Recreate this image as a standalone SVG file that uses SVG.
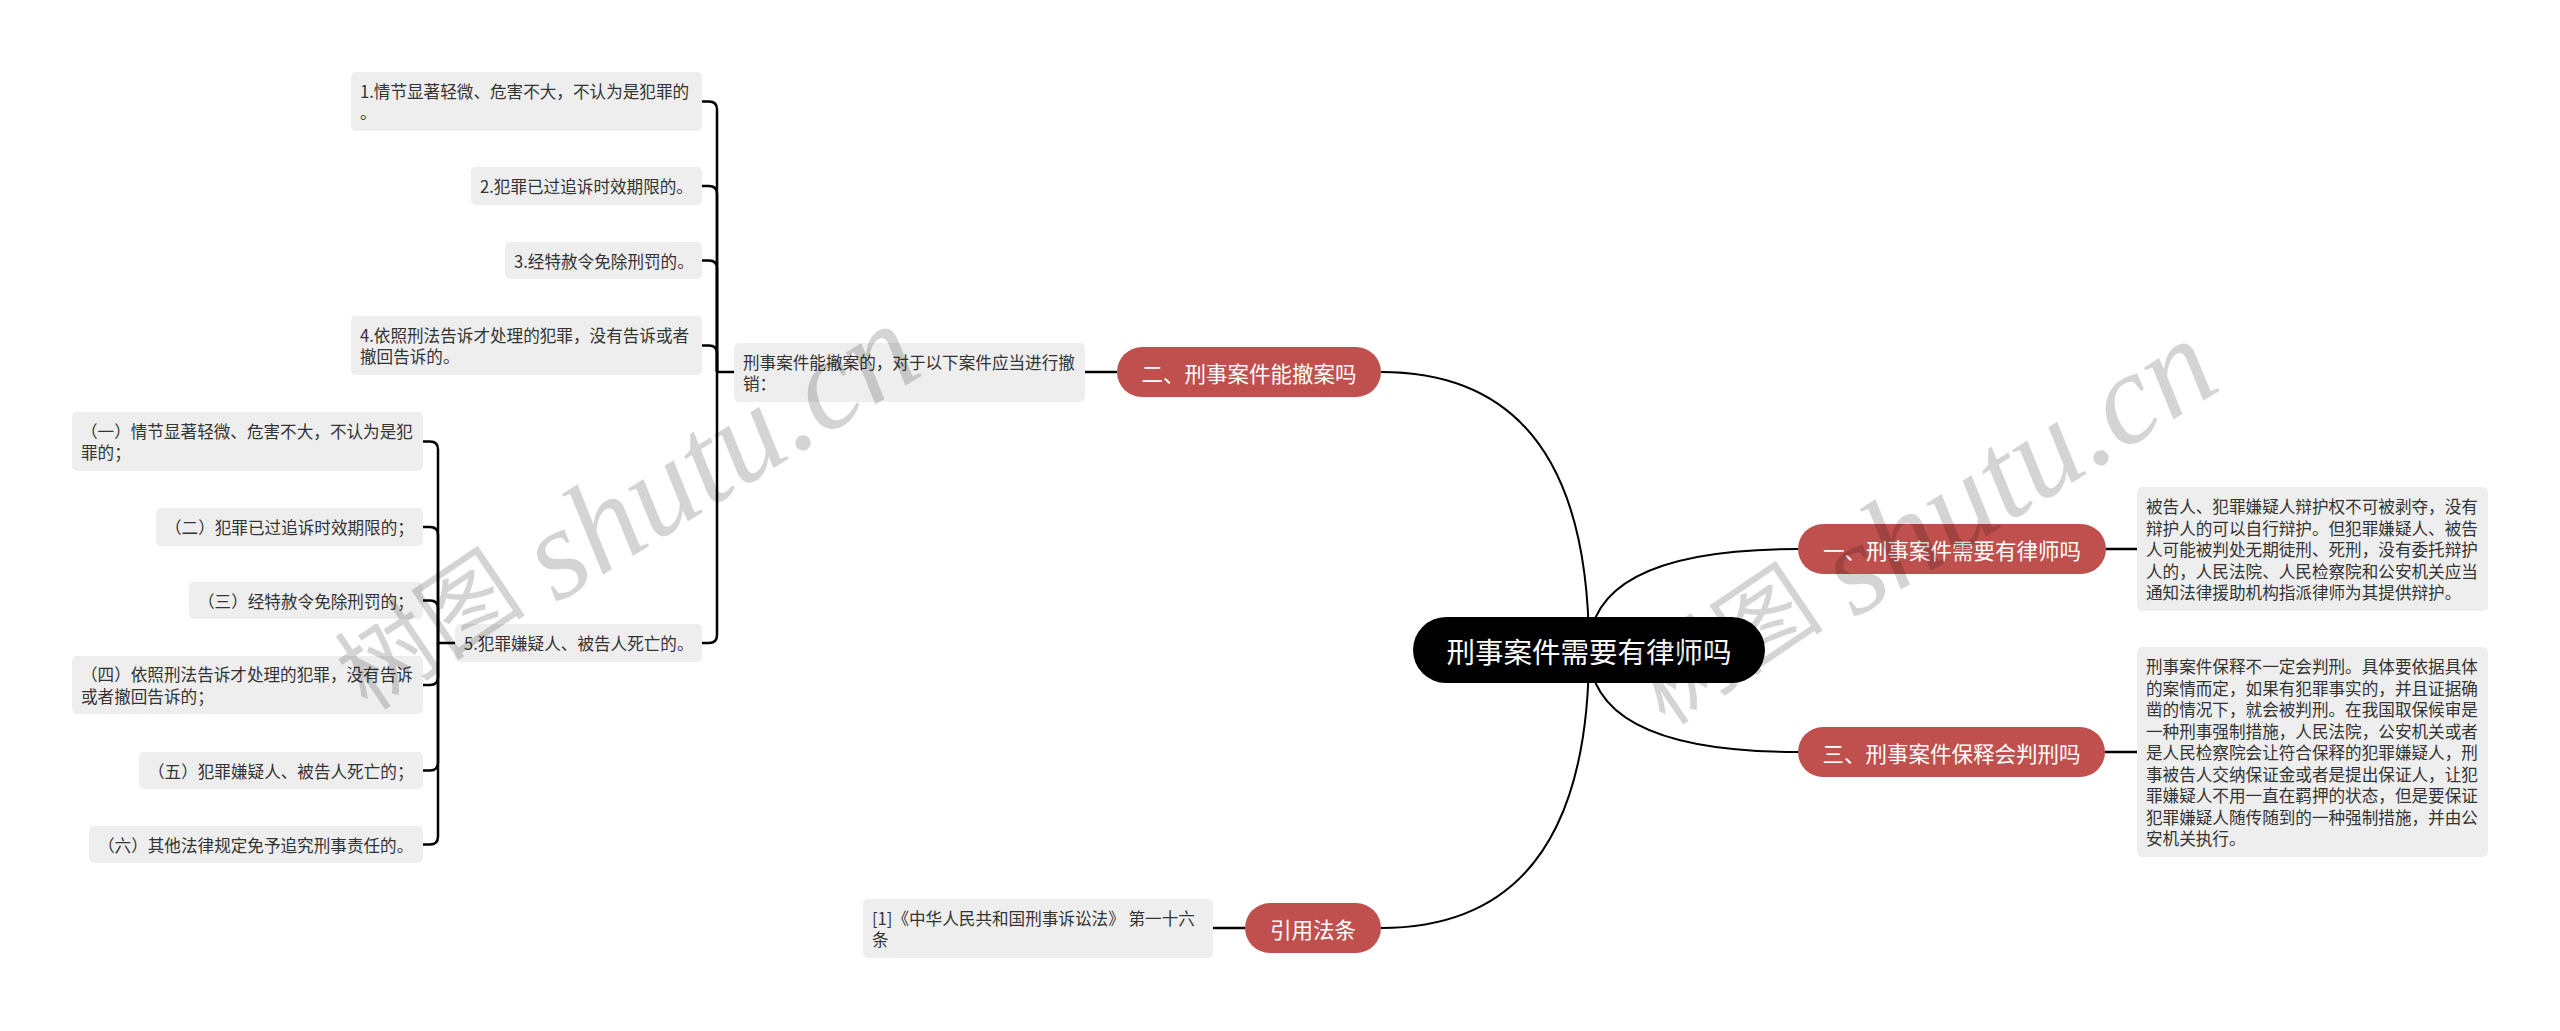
<svg xmlns="http://www.w3.org/2000/svg" width="2560" height="1031" viewBox="0 0 2560 1031">
<style>
.box{fill:#eeeeee}
.t{font-family:"Noto Sans CJK SC","Noto Sans",sans-serif;font-size:16.6px;fill:#333333;dominant-baseline:central}
.r{fill:#c0504d}
.rt{font-family:"Noto Sans CJK SC","Noto Sans",sans-serif;font-size:21.5px;fill:#ffffff;text-anchor:middle;dominant-baseline:central}
.mt{font-family:"Noto Sans CJK SC","Noto Sans",sans-serif;font-size:28.5px;fill:#ffffff;text-anchor:middle;dominant-baseline:central}
.c{fill:none;stroke:#000;stroke-width:2}
.b{fill:none;stroke:#000;stroke-width:2.5}
.wm{fill:#000;fill-opacity:0.17}
.wc{font-family:"Noto Sans CJK SC",sans-serif;font-size:96px}
.wl{font-family:"Liberation Serif",serif;font-style:italic;font-size:130px}
</style>
<rect width="2560" height="1031" fill="#ffffff"/>
<g id="connectors">
<path class="c" d="M1589,650 Q1589,372 1381,372"/>
<path class="c" d="M1589,650 Q1589,549 1798,549"/>
<path class="c" d="M1589,650 Q1589,752 1798,752"/>
<path class="c" d="M1589,650 Q1589,928 1381,928"/>
<path class="b" d="M1085,372 H1117"/>
<path class="b" d="M2106,549 H2137"/>
<path class="b" d="M2105,752 H2137"/>
<path class="b" d="M1213,928 H1245"/>
<path class="b" d="M717,372 H734"/>
<path class="b" d="M702,101.5 H709 Q717,101.5 717,109.5 V372"/>
<path class="b" d="M702,186 H709 Q717,186 717,194 V372"/>
<path class="b" d="M702,260.5 H709 Q717,260.5 717,268.5 V372"/>
<path class="b" d="M702,345.5 H709 Q717,345.5 717,353.5 V372"/>
<path class="b" d="M702,643 H709 Q717,643 717,635 V372"/>
<path class="b" d="M438,643 H455"/>
<path class="b" d="M423,441.5 H430 Q438,441.5 438,449.5 V643"/>
<path class="b" d="M423,527 H430 Q438,527 438,535 V643"/>
<path class="b" d="M423,600.5 H430 Q438,600.5 438,608.5 V643"/>
<path class="b" d="M423,685 H430 Q438,685 438,677 V643"/>
<path class="b" d="M423,770.5 H430 Q438,770.5 438,762.5 V643"/>
<path class="b" d="M423,844.5 H430 Q438,844.5 438,836.5 V643"/>
</g>
<g id="main">
<rect x="1413" y="617" width="352" height="66" rx="33" fill="#000"/>
<text class="mt" x="1589" y="650">刑事案件需要有律师吗</text>
</g>
<g id="n-two">
<rect class="r" x="1117" y="347" width="264" height="50" rx="25"/>
<text class="rt" x="1249" y="372">二、刑事案件能撤案吗</text>
</g>
<g id="n-one">
<rect class="r" x="1798" y="524" width="308" height="50" rx="25"/>
<text class="rt" x="1952" y="549">一、刑事案件需要有律师吗</text>
</g>
<g id="n-three">
<rect class="r" x="1798" y="727" width="307" height="50" rx="25"/>
<text class="rt" x="1951.5" y="752">三、刑事案件保释会判刑吗</text>
</g>
<g id="n-cite">
<rect class="r" x="1245" y="903" width="136" height="50" rx="25"/>
<text class="rt" x="1313" y="928">引用法条</text>
</g>
<g id="b-chean">
<rect class="box" x="734" y="343" width="351" height="59" rx="5"/>
<text class="t"><tspan x="743" y="361.75">刑事案件能撤案的，对于以下案件应当进行撤</tspan><tspan x="743" y="383.25">销：</tspan></text>
</g>
<g id="b-1">
<rect class="box" x="351" y="72" width="351" height="59" rx="5"/>
<text class="t"><tspan x="360" y="90.75">1.情节显著轻微、危害不大，不认为是犯罪的</tspan><tspan x="360" y="112.25">。</tspan></text>
</g>
<g id="b-2">
<rect class="box" x="471" y="167" width="231" height="38" rx="5"/>
<text class="t" x="480" y="186">2.犯罪已过追诉时效期限的。</text>
</g>
<g id="b-3">
<rect class="box" x="505" y="242" width="197" height="37" rx="5"/>
<text class="t" x="514" y="260.5">3.经特赦令免除刑罚的。</text>
</g>
<g id="b-4">
<rect class="box" x="351" y="316" width="351" height="59" rx="5"/>
<text class="t"><tspan x="360" y="334.75">4.依照刑法告诉才处理的犯罪，没有告诉或者</tspan><tspan x="360" y="356.25">撤回告诉的。</tspan></text>
</g>
<g id="b-5">
<rect class="box" x="455" y="624" width="247" height="38" rx="5"/>
<text class="t" x="464" y="643">5.犯罪嫌疑人、被告人死亡的。</text>
</g>
<g id="s-1">
<rect class="box" x="72" y="412" width="351" height="59" rx="5"/>
<text class="t"><tspan x="81" y="430.75">（一）情节显著轻微、危害不大，不认为是犯</tspan><tspan x="81" y="452.25">罪的；</tspan></text>
</g>
<g id="s-2">
<rect class="box" x="156" y="508" width="267" height="38" rx="5"/>
<text class="t" x="165" y="527">（二）犯罪已过追诉时效期限的；</text>
</g>
<g id="s-3">
<rect class="box" x="189" y="582" width="234" height="37" rx="5"/>
<text class="t" x="198" y="600.5">（三）经特赦令免除刑罚的；</text>
</g>
<g id="s-4">
<rect class="box" x="72" y="656" width="351" height="58" rx="5"/>
<text class="t"><tspan x="81" y="674.25">（四）依照刑法告诉才处理的犯罪，没有告诉</tspan><tspan x="81" y="695.75">或者撤回告诉的；</tspan></text>
</g>
<g id="s-5">
<rect class="box" x="139" y="752" width="284" height="37" rx="5"/>
<text class="t" x="148" y="770.5">（五）犯罪嫌疑人、被告人死亡的；</text>
</g>
<g id="s-6">
<rect class="box" x="89" y="826" width="334" height="37" rx="5"/>
<text class="t" x="98" y="844.5">（六）其他法律规定免予追究刑事责任的。</text>
</g>
<g id="r-1">
<rect class="box" x="2137" y="487" width="351" height="124" rx="5"/>
<text class="t"><tspan x="2146" y="506">被告人、犯罪嫌疑人辩护权不可被剥夺，没有</tspan><tspan x="2146" y="527.5">辩护人的可以自行辩护。但犯罪嫌疑人、被告</tspan><tspan x="2146" y="549">人可能被判处无期徒刑、死刑，没有委托辩护</tspan><tspan x="2146" y="570.5">人的，人民法院、人民检察院和公安机关应当</tspan><tspan x="2146" y="592">通知法律援助机构指派律师为其提供辩护。</tspan></text>
</g>
<g id="r-3">
<rect class="box" x="2137" y="647" width="351" height="210" rx="5"/>
<text class="t"><tspan x="2146" y="666">刑事案件保释不一定会判刑。具体要依据具体</tspan><tspan x="2146" y="687.5">的案情而定，如果有犯罪事实的，并且证据确</tspan><tspan x="2146" y="709">凿的情况下，就会被判刑。在我国取保候审是</tspan><tspan x="2146" y="730.5">一种刑事强制措施，人民法院，公安机关或者</tspan><tspan x="2146" y="752">是人民检察院会让符合保释的犯罪嫌疑人，刑</tspan><tspan x="2146" y="773.5">事被告人交纳保证金或者是提出保证人，让犯</tspan><tspan x="2146" y="795">罪嫌疑人不用一直在羁押的状态，但是要保证</tspan><tspan x="2146" y="816.5">犯罪嫌疑人随传随到的一种强制措施，并由公</tspan><tspan x="2146" y="838">安机关执行。</tspan></text>
</g>
<g id="c-1">
<rect class="box" x="863" y="899" width="350" height="59" rx="5"/>
<text class="t"><tspan x="872" y="917.75">[1]《中华人民共和国刑事诉讼法》 第一十六</tspan><tspan x="872" y="939.25">条</tspan></text>
</g>
<g id="watermarks" class="wm">
<text class="wc" transform="translate(368,712) rotate(-34)">树图</text>
<text class="wl" transform="translate(556,604) rotate(-32)">shutu.cn</text>
<text class="wc" transform="translate(1666,727) rotate(-34)">树图</text>
<text class="wl" transform="translate(1854,619) rotate(-32)">shutu.cn</text>
</g>
</svg>
